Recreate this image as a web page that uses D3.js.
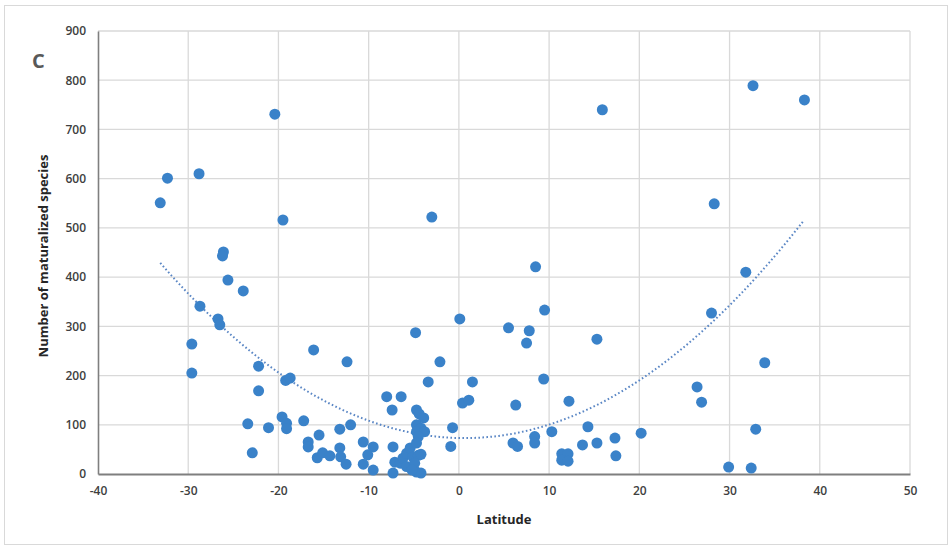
<!DOCTYPE html>
<html>
<head>
<meta charset="utf-8">
<script src="https://cdn.jsdelivr.net/npm/d3@7"></script>
<style>
  html, body { margin: 0; padding: 0; background: #ffffff; }
  svg { display: block; }
</style>
</head>
<body>
<svg id="chart" width="952" height="549"></svg>
<script>
// ---- Data ----
const latitude = [
  -33.1, -32.3, -28.8, -20.4, -19.5, -26.1, -26.2, -25.6, -23.9, -28.7,
  -26.7, -26.5, -29.6, -29.6, -22.2, -22.2, -19.2, -18.7, -16.1, -12.4,
  -8.0, -6.4, -7.4, -23.4, -21.1, -22.9, -19.6, -19.1, -19.1, -17.2,
  -16.7, -16.7, -15.5, -15.7, -15.1, -14.3, -13.2, -12.0, -13.2, -13.1,
  -12.5, -10.6, -9.5, -10.1, -10.6, -9.5, -7.3, -7.3, -7.1, -6.5,
  -6.2, -5.8, -5.4, -5.1, -4.5, -4.2, -5.8, -4.9, -4.7, -4.2,
  -5.2, 0.1, -4.8, -2.1, -3.4, 1.5, 0.4, 1.1, -4.7, -4.4,
  -3.9, -4.7, -4.2, -4.7, -3.8, -4.5, -4.7, -0.7, -0.9, -3.0,
  8.5, 9.5, 5.5, 7.8, 7.5, 15.3, 9.4, 6.3, 12.2, 10.3,
  8.4, 8.4, 6.0, 6.5, 14.3, 13.7, 15.3, 17.3, 17.4, 20.2,
  11.4, 12.1, 11.4, 12.1, 26.4, 26.9, 32.6, 38.3, 28.3, 31.8,
  28.0, 33.9, 32.9, 29.9, 32.4, 15.9
];
const species = [
  551, 601, 610, 731, 516, 451, 443, 394, 372, 341,
  315, 303, 264, 205, 219, 169, 190, 195, 252, 228,
  157, 157, 130, 102, 94, 43, 116, 103, 92, 108,
  65, 55, 79, 33, 43, 37, 91, 100, 53, 35,
  20, 65, 55, 39, 20, 8, 55, 2, 24, 22,
  32, 42, 53, 35, 38, 40, 15, 22, 4, 2,
  8, 315, 287, 228, 187, 187, 144, 150, 130, 122,
  114, 100, 93, 86, 86, 76, 63, 94, 56, 522,
  421, 333, 297, 291, 266, 274, 193, 140, 148, 86,
  76, 63, 63, 56, 96, 59, 63, 73, 37, 83,
  41, 41, 28, 26, 177, 146, 789, 760, 549, 410,
  327, 226, 91, 14, 12, 740
];
// Polynomial (order 2) trendline coefficients
const trendCoef = [73.1, -0.398, 0.3128];   // c, b, a
const trendRange = [-33.1, 38.3];
const xTicks = [-40, -30, -20, -10, 0, 10, 20, 30, 40, 50];
const yTicks = [0, 100, 200, 300, 400, 500, 600, 700, 800, 900];
const xLabel = "Latitude";
const yLabel = "Number of maturalized species";
const panelLabel = "C";

// ---- Layout ----
const W = 952, H = 549;
const m = { left: 98, top: 31, right: 42, bottom: 75 };
const pw = W - m.left - m.right, ph = H - m.top - m.bottom;

const svg = d3.select("#chart");
svg.append("rect").attr("x", 4.5).attr("y", 5.5).attr("width", W - 9).attr("height", H - 10)
  .attr("fill", "#fff").attr("stroke", "#d9d9d9").attr("stroke-width", 1);

const x = d3.scaleLinear().domain([-40, 50]).range([m.left, m.left + pw]);
const y = d3.scaleLinear().domain([0, 900]).range([m.top + ph, m.top]);

const font = "'Open Sans', 'Liberation Sans', sans-serif";
const fmt = d => String(d);

// gridlines
const g = svg.append("g");
g.selectAll(".vg").data(xTicks.slice(1)).join("line")
  .attr("x1", d => x(d)).attr("x2", d => x(d))
  .attr("y1", m.top).attr("y2", m.top + ph)
  .attr("stroke", "#d9d9d9").attr("stroke-width", 1.3);
g.selectAll(".hg").data(yTicks.slice(1)).join("line")
  .attr("x1", m.left).attr("x2", m.left + pw)
  .attr("y1", d => y(d)).attr("y2", d => y(d))
  .attr("stroke", "#d9d9d9").attr("stroke-width", 1.3);

// axes
const xAxis = svg.append("g").attr("transform", `translate(0,${m.top + ph})`)
  .call(d3.axisBottom(x).tickValues(xTicks).tickSize(0).tickPadding(12).tickFormat(fmt));
xAxis.select(".domain").attr("stroke", "#7f7f7f").attr("stroke-width", 2.2);
xAxis.selectAll("text").attr("font-family", font).attr("font-size", 12)
  .attr("font-weight", 600).attr("fill", "#404040");

const yAxis = svg.append("g").attr("transform", `translate(${m.left},0)`)
  .call(d3.axisLeft(y).tickValues(yTicks).tickSize(0).tickPadding(12).tickFormat(fmt));
yAxis.select(".domain").attr("stroke", "#7f7f7f").attr("stroke-width", 1.6);
yAxis.selectAll("text").attr("font-family", font).attr("font-size", 12)
  .attr("font-weight", 600).attr("fill", "#404040");

// trendline
const trendX = d3.range(trendRange[0], trendRange[1] + 0.001, 0.25);
const trendFn = v => trendCoef[0] + trendCoef[1] * v + trendCoef[2] * v * v;
svg.append("path")
  .datum(trendX)
  .attr("d", d3.line().x(d => x(d)).y(d => y(trendFn(d))))
  .attr("fill", "none").attr("stroke", "#5b87c5").attr("stroke-width", 2)
  .attr("stroke-dasharray", "1.6,2.4");

// points
const pts = latitude.map((d, i) => ({ lat: d, v: species[i] }));
svg.append("g").selectAll("circle").data(pts).join("circle")
  .attr("cx", d => x(d.lat)).attr("cy", d => y(d.v)).attr("r", 5.5)
  .attr("fill", "#3a82c9");

// labels
svg.append("text").attr("x", x(5)).attr("y", 524).attr("text-anchor", "middle")
  .attr("font-family", font).attr("font-size", 13).attr("font-weight", 700)
  .attr("fill", "#262626").text(xLabel);
svg.append("text").attr("transform", `translate(48,${256}) rotate(-90)`)
  .attr("text-anchor", "middle")
  .attr("font-family", font).attr("font-size", 13).attr("font-weight", 700)
  .attr("fill", "#262626").text(yLabel);
svg.append("text").attr("x", 32).attr("y", 68)
  .attr("font-family", font).attr("font-size", 20).attr("font-weight", 700)
  .attr("fill", "#595959").text(panelLabel);
</script>
</body>
</html>
